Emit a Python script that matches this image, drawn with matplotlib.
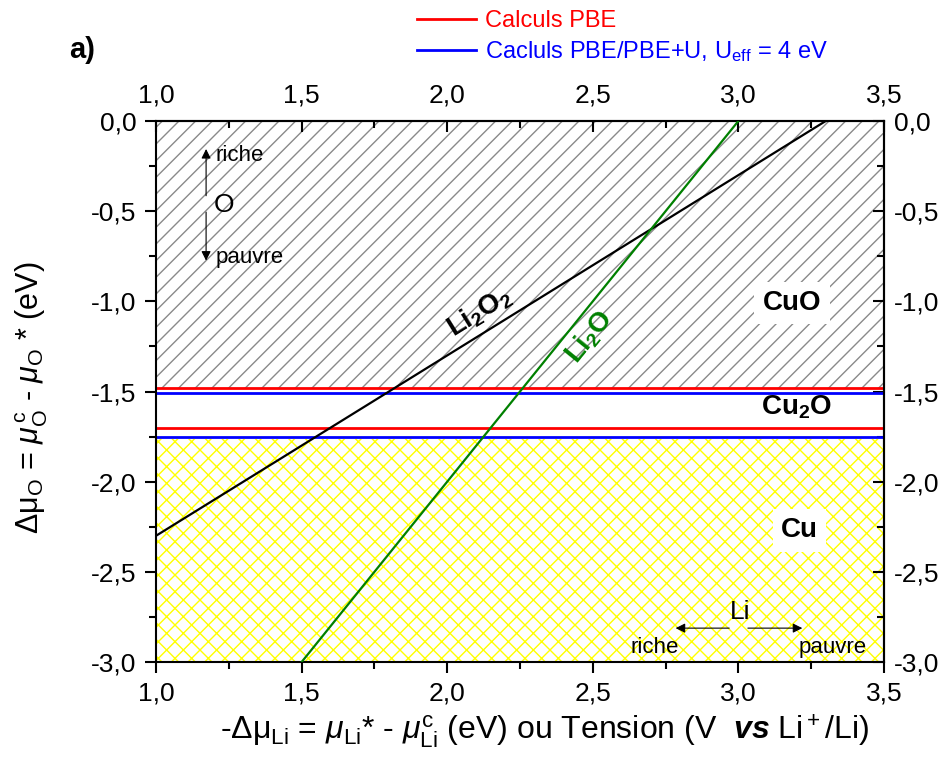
import numpy as np
import matplotlib
matplotlib.use('Agg')
import matplotlib.pyplot as plt
from matplotlib.ticker import MultipleLocator, FuncFormatter

plt.rcParams['font.family'] = ['Liberation Sans', 'DejaVu Sans']
plt.rcParams['mathtext.fontset'] = 'custom'
plt.rcParams['mathtext.rm'] = 'Liberation Sans'
plt.rcParams['mathtext.it'] = 'Liberation Sans:italic'
plt.rcParams['mathtext.bf'] = 'Liberation Sans:bold'
plt.rcParams['mathtext.bfit'] = 'Liberation Sans:italic:bold'
plt.rcParams['axes.unicode_minus'] = False
plt.rcParams['hatch.linewidth'] = 1.0

# Data
pbe_levels = [-1.48, -1.70]          # red lines (Calculs PBE)
pbeu_levels = [-1.51, -1.75]         # blue lines (PBE/PBE+U)
li2o2_x = [1.0, 3.3]
li2o2_y = [-2.3, 0.0]
li2o_x = [1.5, 3.0]
li2o_y = [-3.0, 0.0]
cuo_range = [-1.48, 0.0]
cu_range = [-3.0, -1.765]

x_lim = [1.0, 3.5]
y_lim = [-3.0, 0.0]


def comma_fmt(v, pos):
    return f'{v:.1f}'.replace('.', ',')


fig = plt.figure(figsize=(9.53, 7.58), dpi=100)
ax = fig.add_axes([0.1637, 0.1266, 0.7639, 0.7138])

# stability regions
ax.axhspan(cuo_range[0], cuo_range[1], facecolor='white', edgecolor='#8a8a8a',
           hatch='//', linewidth=0, zorder=0)
ax.axhspan(cu_range[0], cu_range[1], facecolor='white', edgecolor='#ffff00',
           hatch='xx', linewidth=0, zorder=0)

# horizontal transition lines
for i, lv in enumerate(pbe_levels):
    ax.axhline(lv, color='#ff0000', lw=2, zorder=2,
               label='Calculs PBE' if i == 0 else None)
for i, lv in enumerate(pbeu_levels):
    ax.axhline(lv, color='#0000ff', lw=2, zorder=2,
               label=r'Cacluls PBE/PBE+U, U$_\mathrm{eff}$ = 4 eV' if i == 0 else None)

ax.plot(li2o2_x, li2o2_y, color='black', lw=1.6, zorder=3)
ax.plot(li2o_x, li2o_y, color='#008000', lw=1.6, zorder=3)

ax.set_xlim(x_lim)
ax.set_ylim(y_lim)

# labels in the plot
ax.text(2.109, -1.06, r'Li$_\mathbf{2}$O$_\mathbf{2}$', rotation=31.8, fontsize=20,
        fontweight='bold', ha='center', va='center', zorder=4)
ax.text(2.49, -1.20, r'Li$_\mathbf{2}$O', rotation=51, fontsize=20, fontweight='bold',
        color='#008000', ha='center', va='center', zorder=4)
ax.text(3.184, -1.01, 'CuO', fontsize=20, fontweight='bold', ha='center', va='center',
        bbox=dict(facecolor='white', edgecolor='none', pad=6), zorder=4)
ax.text(3.20, -1.59, r'Cu$_\mathbf{2}$O', fontsize=20, fontweight='bold',
        ha='center', va='center', zorder=4)
ax.text(3.21, -2.27, 'Cu', fontsize=20, fontweight='bold', ha='center', va='center',
        bbox=dict(facecolor='white', edgecolor='none', pad=6), zorder=4)

# O arrows
ax.annotate('', xy=(1.172, -0.14), xytext=(1.172, -0.43),
            arrowprops=dict(arrowstyle='-|>', color='black', lw=0.8, mutation_scale=14))
ax.annotate('', xy=(1.172, -0.79), xytext=(1.172, -0.49),
            arrowprops=dict(arrowstyle='-|>', color='black', lw=0.8, mutation_scale=14))
ax.text(1.205, -0.19, 'riche', fontsize=16, ha='left', va='center')
ax.text(1.235, -0.466, 'O', fontsize=19, ha='center', va='center')
ax.text(1.205, -0.755, 'pauvre', fontsize=16, ha='left', va='center')

# Li arrows
ax.annotate('', xy=(2.775, -2.812), xytext=(2.978, -2.812),
            arrowprops=dict(arrowstyle='-|>', color='black', lw=0.8, mutation_scale=14))
ax.annotate('', xy=(3.229, -2.812), xytext=(3.023, -2.812),
            arrowprops=dict(arrowstyle='-|>', color='black', lw=0.8, mutation_scale=14))
ax.text(3.005, -2.72, 'Li', fontsize=19, ha='center', va='center')
ax.text(2.714, -2.917, 'riche', fontsize=16, ha='center', va='center')
ax.text(3.325, -2.917, 'pauvre', fontsize=16, ha='center', va='center')

# ticks
ax.xaxis.set_major_locator(MultipleLocator(0.5))
ax.xaxis.set_minor_locator(MultipleLocator(0.25))
ax.yaxis.set_major_locator(MultipleLocator(0.5))
ax.yaxis.set_minor_locator(MultipleLocator(0.25))
ax.xaxis.set_major_formatter(FuncFormatter(comma_fmt))
ax.yaxis.set_major_formatter(FuncFormatter(comma_fmt))
ax.tick_params(which='major', direction='out', length=8, width=1.5, labelsize=19, pad=6)
ax.tick_params(which='minor', direction='out', length=5, width=1.5)

top = ax.secondary_xaxis('top')
top.xaxis.set_major_locator(MultipleLocator(0.5))
top.xaxis.set_minor_locator(MultipleLocator(0.25))
top.xaxis.set_major_formatter(FuncFormatter(comma_fmt))
top.tick_params(which='major', direction='in', length=8, width=1.5, labelsize=19, pad=10)
top.tick_params(which='minor', direction='in', length=5, width=1.5)

right = ax.secondary_yaxis('right')
right.yaxis.set_major_locator(MultipleLocator(0.5))
right.yaxis.set_minor_locator(MultipleLocator(0.25))
right.yaxis.set_major_formatter(FuncFormatter(comma_fmt))
right.tick_params(which='major', direction='in', length=8, width=1.5, labelsize=19, pad=7)
right.tick_params(which='minor', direction='in', length=5, width=1.5)

for sp in list(ax.spines.values()) + list(top.spines.values()) + list(right.spines.values()):
    sp.set_linewidth(1.5)

ax.set_xlabel(r'-$\Delta\mathrm{\mu}_\mathrm{Li}$ = $\mu_\mathrm{Li}$* - $\mu_\mathrm{Li}^\mathrm{c}$'
              r' (eV) ou Tension (V  $\mathbfit{vs}$ Li$^+$/Li)', fontsize=23)
ax.xaxis.set_label_coords(0.534, -0.092)
ax.set_ylabel(r'$\Delta\mathrm{\mu}_\mathrm{O}$ = $\mu_\mathrm{O}^{\,\mathrm{c}}$ - $\mu_\mathrm{O}$ * (eV)',
              fontsize=22)
ax.yaxis.set_label_coords(-0.145, 0.488)

fig.text(0.073, 0.934, 'a)', fontsize=21, fontweight='bold', ha='left', va='center')

leg = fig.legend(loc='upper left', bbox_to_anchor=(0.42, 1.008), frameon=False,
                 fontsize=17, handlelength=2.5, handletextpad=0.4, labelspacing=0.3,
                 labelcolor='linecolor', borderpad=0.2)

fig.savefig('out.png', dpi=100)
